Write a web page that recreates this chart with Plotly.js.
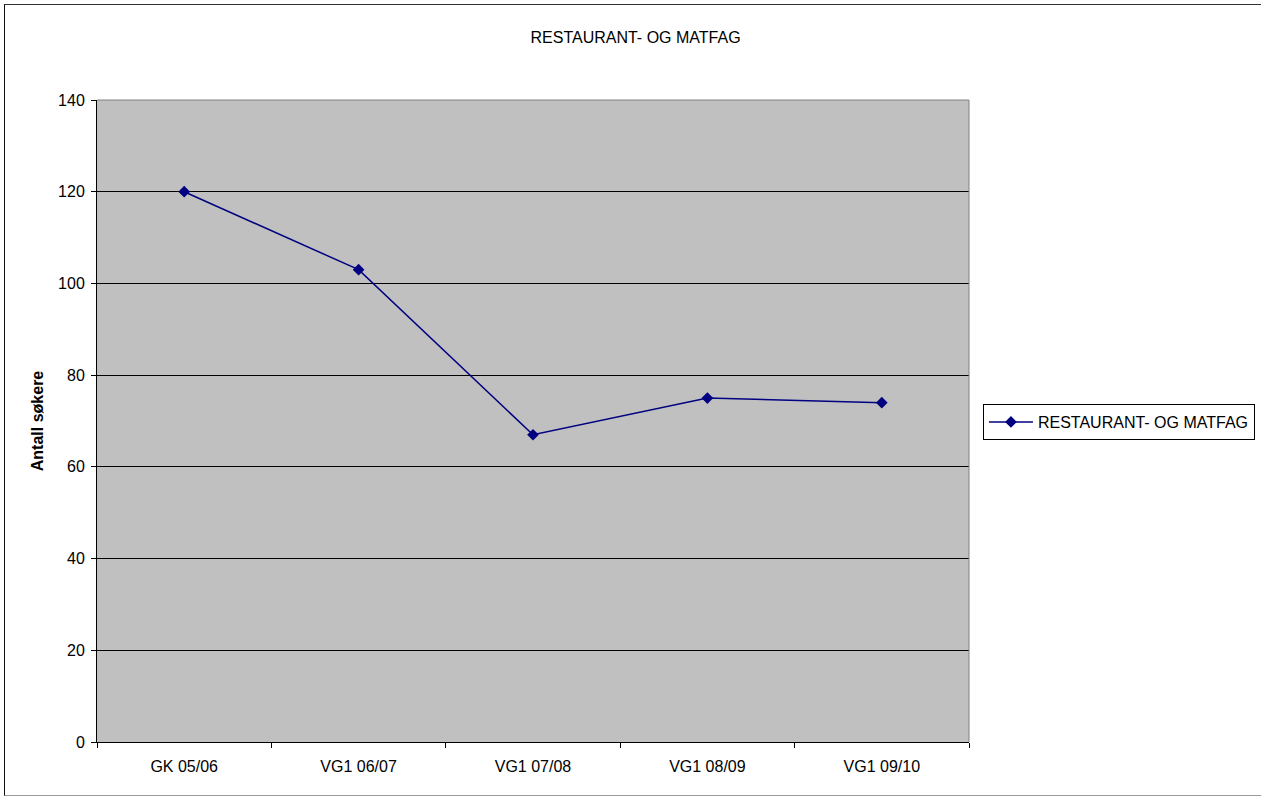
<!DOCTYPE html>
<html>
<head>
<meta charset="utf-8">
<script src="https://cdn.plot.ly/plotly-3.0.1.min.js"></script>
<style>
html,body{margin:0;padding:0;background:#fff;}
#wrap{position:relative;width:1261px;height:799px;}
#chart{width:1261px;height:799px;}
#frame{position:absolute;left:4px;top:4px;width:1262px;height:792px;border-top:1.5px solid #333;border-left:1.5px solid #111;border-bottom:1.5px solid #999;pointer-events:none;box-sizing:border-box;}
</style>
</head>
<body>
<div id="wrap"><div id="chart"></div><div id="frame"></div></div>
<script>
const categories = ["GK 05/06", "VG1 06/07", "VG1 07/08", "VG1 08/09", "VG1 09/10"];
const seriesName = "RESTAURANT- OG MATFAG";
const values = [120, 103, 67, 75, 74];
const yTicks = [0, 20, 40, 60, 80, 100, 120, 140];

const font = "Liberation Sans, Arial, sans-serif";
const trace = {
  x: categories, y: values, type: "scatter", mode: "lines+markers", name: seriesName,
  line: {color: "#000080", width: 1.5},
  marker: {symbol: "diamond", size: 9, color: "#000080"}
};
const layout = {
  width: 1261, height: 799,
  margin: {l: 97, r: 292, t: 100, b: 57},
  paper_bgcolor: "#ffffff", plot_bgcolor: "#c0c0c0",
  font: {family: font, size: 16, color: "#000"},
  title: {text: "RESTAURANT- OG MATFAG", x: 0.504, xref: "container", y: 0.953, yanchor: "middle", font: {family: font, size: 16, color: "#000"}},
  showlegend: true,
  legend: {xref: "container", yref: "container", x: 0.7795, xanchor: "left", y: 0.4718, yanchor: "middle",
    bordercolor: "#000", borderwidth: 1, bgcolor: "#fff", itemwidth: 44, font: {family: font, size: 16}},
  xaxis: {type: "category", tickson: "boundaries", ticks: "outside", ticklen: 5, tickcolor: "#000",
    showline: true, linecolor: "#000", linewidth: 1, mirror: false, showgrid: false, zeroline: false,
    range: [-0.5, 4.5], ticklabelstandoff: 10, tickfont: {family: font, size: 16}},
  yaxis: {range: [0, 140], tickvals: yTicks, ticks: "outside", ticklen: 5, tickcolor: "#000",
    showline: true, linecolor: "#000", linewidth: 1, showgrid: true, gridcolor: "#000", gridwidth: 1, zeroline: false,
    ticklabelstandoff: 3, tickfont: {family: font, size: 16},
    title: {text: "<b>Antall søkere</b>", standoff: 10, font: {family: font, size: 16}}},
  shapes: [
    {type: "line", xref: "paper", yref: "paper", x0: 1, x1: 1, y0: 0, y1: 1, line: {color: "#808080", width: 1}},
    {type: "line", xref: "paper", yref: "paper", x0: 0, x1: 1, y0: 1, y1: 1, line: {color: "#808080", width: 1}}
  ]
};
Plotly.newPlot("chart", [trace], layout, {displayModeBar: false, staticPlot: true});
</script>
</body>
</html>
